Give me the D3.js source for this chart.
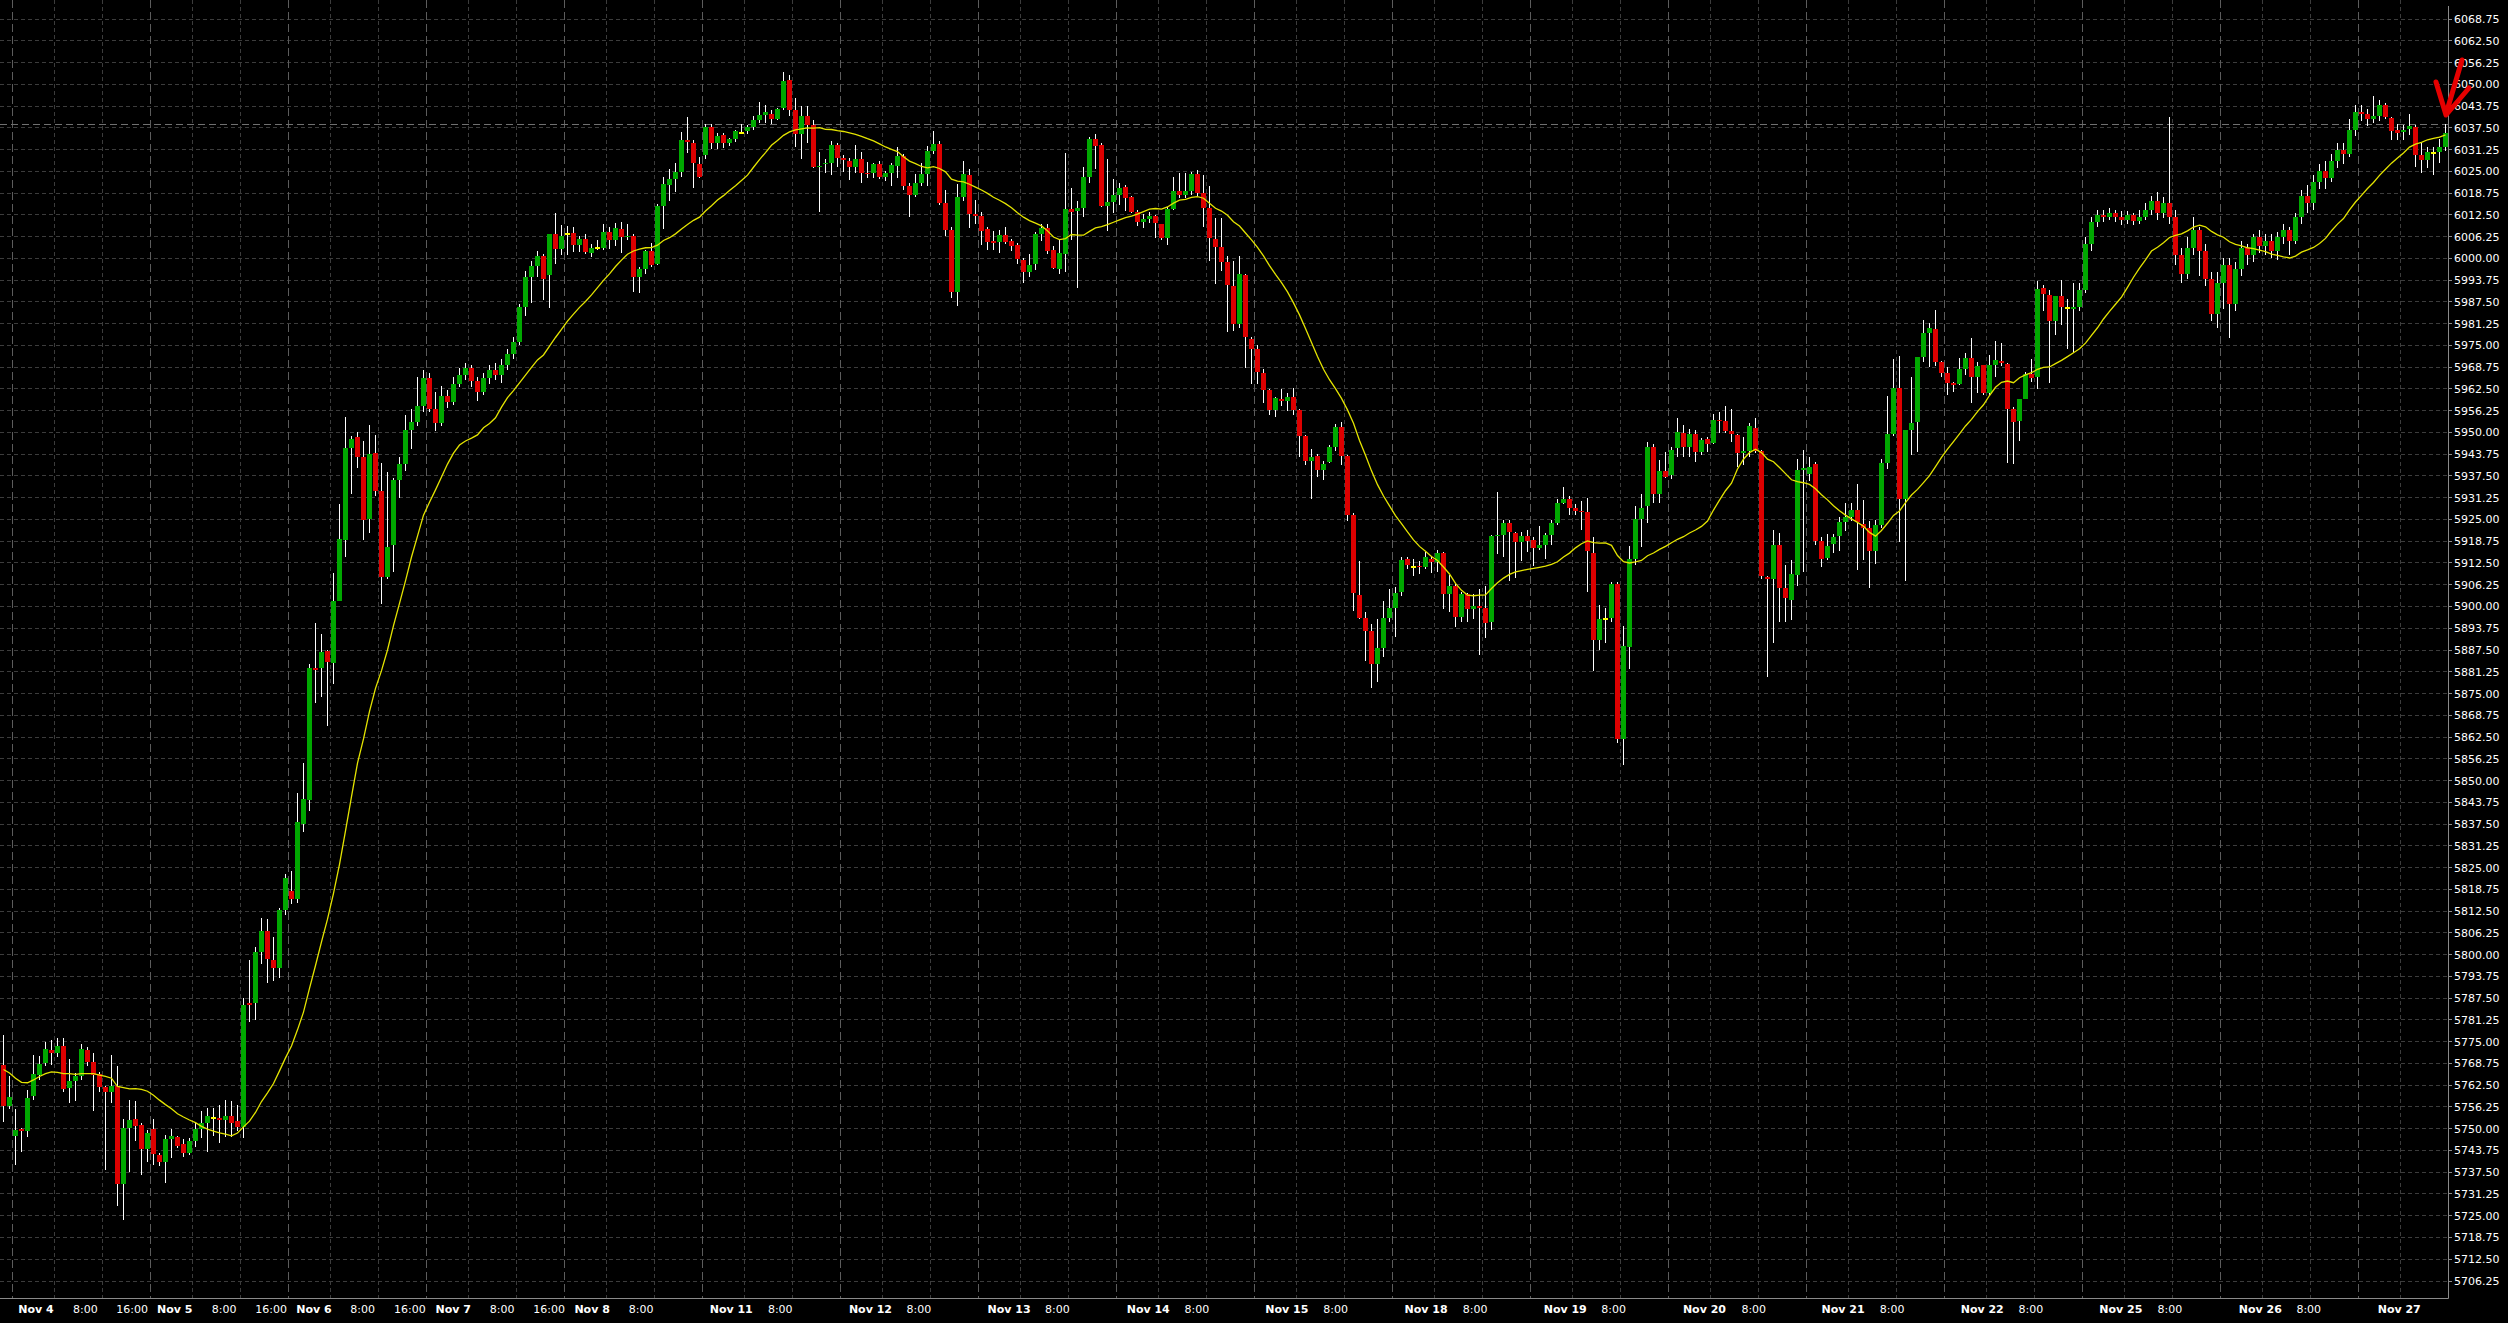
<!DOCTYPE html>
<html><head><meta charset="utf-8">
<script src="https://cdn.jsdelivr.net/npm/d3@7"></script>
<style>html,body{margin:0;padding:0;background:#000;overflow:hidden}</style>
</head><body>
<svg id="c" width="2508" height="1323"></svg>
<script>
const opens=[
5768.2,5756.5,5747.9,5749.9,5749.4,5759.4,5765.3,5768.9,5772.5,5771.8,
5773.7,5761.7,5763.6,5765.2,5772.5,5769.1,5765.8,5762,5760.6,5762.2,
5734.1,5750.1,5752.7,5751,5744.2,5749.8,5742.4,5740.4,5747,5747.5,
5745.6,5742.9,5746.4,5749.9,5751.5,5753.1,5753.1,5752.4,5753.7,5752.1,
5750.5,5786,5786,5800.7,5806.9,5798.5,5796.1,5812.9,5818.3,5815.9,
5837.5,5844.3,5882.2,5882.3,5887.2,5883.9,5901.5,5919.2,5945.5,5948.6,
5943,5925,5944.2,5933.1,5908.5,5917.8,5936.4,5940.9,5950.8,5953.1,
5957.5,5965.5,5956.8,5952.7,5960.4,5958.7,5964,5966.5,5968.4,5964.8,
5961.7,5965.6,5967.9,5966.5,5969.5,5972.5,5976,5985.9,5994.6,5997.8,
6000.7,5995.2,6007,6002.7,6007.1,6007.2,6003.8,6005.5,6001.6,6003.1,
6003.1,6007.6,6005.3,6008.4,6006.1,6006.5,5994.5,5996.9,6002.1,5998.4,
6015.1,6021.2,6022.8,6024.8,6034,6033,6027.1,6029.7,6037.7,6033,
6035.4,6033.2,6034.3,6036.1,6036.6,6037.6,6039.6,6041.2,6041.5,6040.1,
6043.3,6051.3,6042.6,6035.7,6040.9,6038.3,6026.3,6027,6027.5,6032.6,
6028.9,6028.1,6026.3,6028.5,6024.6,6024.6,6027.1,6023.4,6024.6,6026.6,
6029.4,6020.8,6018.2,6021.5,6024.2,6030.8,6032.8,6015.8,6008.1,5990.4,
6017.5,6023.9,6012.7,6012.1,6008.4,6005,6004.8,6006.7,6005,6003.8,
5999.5,5996.1,5998.3,6007,6008.8,6002.4,5996.9,6001.2,6014.1,6013.6,
6014.5,6023.4,6034.3,6032.5,6015.1,6016.1,6018.2,6020.4,6017.5,6013.4,
6010.5,6011.2,6012.1,6009.8,6005.9,6014.2,6019.3,6018.2,6019.3,6024.2,
6018.7,6014.6,6005.5,6003.2,5998.9,5992,5981,5995.1,5976.8,5974.1,
5967.2,5962.1,5956.4,5959.6,5958.9,5960.3,5956.4,5948.9,5941.9,5943.3,
5939.1,5941.4,5945.7,5951.5,5943.3,5926.3,5903.4,5896.7,5893,5883.6,
5888.2,5896.8,5899.7,5904.3,5913.5,5911.4,5911.7,5911.4,5913.5,5912.7,
5915.3,5903.6,5905.8,5897.1,5903.7,5899.2,5900.2,5899.7,5895.5,5920.2,
5920.6,5923.9,5921.2,5918.5,5920.2,5919.2,5916.8,5917.8,5920.6,5924.1,
5929.8,5930.9,5928.2,5927.4,5927.1,5915.4,5890.4,5896.3,5896.7,5906.6,
5862,5888.4,5913.5,5925.1,5928.8,5945.7,5932.4,5939,5937.7,5945.4,
5949.7,5945.9,5949.5,5944.4,5948,5947,5953.7,5953.2,5950.4,5949.2,
5944.1,5944.6,5951.4,5944.7,5908.5,5908,5917.6,5905.2,5901.8,5909,
5939.2,5938,5940.9,5918.8,5913.9,5917.9,5920.3,5924.3,5925.6,5927.7,
5923.8,5922.6,5916,5923.4,5941.3,5949.5,5962.8,5930.9,5950.7,5953.1,
5971.7,5978.6,5979.7,5970.3,5967.1,5964.3,5963.9,5968.2,5971.5,5966,
5969.3,5961.2,5969.5,5970.5,5969.6,5956.6,5953.3,5959.6,5966.9,5965.8,
5991.4,5989.4,5982.1,5989.3,5985.8,5985.5,5986.1,5990.9,6004,6010.5,
6012.5,6011.8,6013,6012,6011,6012.5,6010.8,6012,6014,6016.5,
6013,6016,6012,6001,5995.5,6003,6008,6002,5994,5984,
5993,5998,5987,5997,6003,6001,6006,6003.5,6005,6002,
6006,6008,6005,6012,6018,6016,6022,6025,6023,6028,
6031,6030,6037,6042,6041.5,6040,6041,6044,6040.4,6036.8,
6036.4,6037.1,6037.8,6029.7,6028.2,6030.3,6030.6,6032.1];

const highs=[
5777,5765.1,5755.6,5750.2,5761,5771.3,5771,5774.9,5775.5,5776,
5776,5769.9,5766.1,5774.2,5773.5,5771.8,5766.3,5762.4,5771.3,5767.9,
5752.8,5758.2,5757.9,5751.5,5749.5,5752.7,5743.1,5748.2,5749.8,5748,
5747,5747.4,5751.5,5755.1,5755.8,5756,5756.7,5758.2,5758,5756.7,
5787.6,5798.5,5802.3,5810.6,5810.2,5805.1,5813.3,5823.2,5824.1,5846.5,
5855.1,5883.5,5895.3,5892,5887.4,5909.6,5929.4,5954.4,5948.9,5950.1,
5947.5,5952.1,5949.4,5941.3,5938.6,5936.9,5942.8,5955.1,5956.7,5966,
5968,5967,5961.7,5963.4,5962.1,5966,5968.5,5970,5969.5,5966,
5967,5969.5,5970,5971,5974,5977.5,5987,5996.5,5999.2,6002.1,
6001.3,6007,6012.9,6009.6,6009.3,6008.9,6006.4,6007,6004,6005.3,
6009.9,6009.1,6010.1,6010.3,6009.9,6007,5997.5,6002.5,6004.3,6015.5,
6023.3,6025.7,6027.3,6036.4,6040.5,6034,6029.2,6038.6,6038.6,6036.1,
6036.1,6034.5,6036.8,6038.6,6038.3,6040.9,6044.8,6044.1,6042.6,6043.2,
6053.5,6052.7,6046,6043.8,6043.8,6039.6,6030.6,6028.5,6033.7,6033.2,
6029.7,6028.7,6032.5,6030.6,6027.8,6027.5,6028,6025.1,6027.3,6031.9,
6030,6021.5,6024.2,6027.3,6032.3,6036.6,6033.7,6019.6,6009,6021.3,
6028,6025.8,6016.9,6013.4,6009.1,6007.9,6008.1,6009.1,6005.7,6004.3,
6000,6001.2,6007.6,6010,6010,6003.6,6005.2,6030.4,6020.1,6016.5,
6026.3,6034.9,6035.7,6033,6028.5,6022.8,6021.7,6021,6018,6014,
6012.7,6013.4,6012.5,6010,6014.8,6023.3,6024.6,6024.6,6024.7,6025.4,
6023.9,6020.9,6011.5,6011.5,6000.7,5999.3,6000.7,5995.5,5977.3,5975,
5968.3,5962.5,5960.3,5962.4,5961.2,5962.7,5956.8,5949.4,5945.1,5943.8,
5941.7,5946.5,5952.5,5952.9,5943.6,5926.8,5913,5898.3,5895.1,5896.3,
5901.6,5905,5905.6,5914.1,5914.1,5913.5,5913,5915.7,5914.5,5916.2,
5915.7,5909,5906.4,5904.3,5904,5903.6,5905,5905.8,5920.5,5933,
5924.7,5924.7,5921.5,5921.5,5922,5919.9,5923.1,5921,5924.9,5930.9,
5934.3,5931.6,5929.3,5930.2,5931.3,5919.9,5900.3,5899.7,5907.1,5907.1,
5894.4,5917.3,5929,5932.3,5947.3,5946.6,5942.2,5944.4,5945.7,5954,
5952.1,5951.1,5950.7,5948.3,5948.7,5955.4,5955.9,5957.5,5956.7,5949.5,
5948.7,5952.6,5954,5945,5908.8,5922.1,5921.2,5911.9,5913.3,5942.5,
5944.9,5942.8,5941.5,5920,5920.8,5920.8,5925.8,5929.6,5929.6,5935.1,
5930.5,5924.6,5924.8,5942.5,5960.4,5971,5971.9,5950.7,5965.8,5971.7,
5982.4,5981.5,5985.1,5970.5,5968.7,5964.5,5971.5,5972.9,5977,5970.3,
5969.5,5972.2,5976.3,5975.6,5970,5957.4,5959.5,5967.4,5971.2,5993.5,
5992.2,5990.9,5989.3,5993.8,5988.2,5993,5993,6006,6012,6014,
6014,6014.5,6014,6013.5,6013.5,6013,6013.8,6016,6018,6019,
6017.5,6040.5,6014,6003,6006,6012,6009,6004,5996,5996,
6000,6000,5999,6005,6004,6007,6008,6007,6007,6007.5,
6010,6009,6013,6019.5,6021,6024,6027,6028,6030,6033,
6033,6040,6044,6044,6043,6046.5,6045.5,6044.5,6040.5,6038.6,
6038.3,6041.5,6038.3,6033,6032.1,6032.1,6034.2,6038.6];

const lows=[
5751.9,5755.6,5739.5,5743.3,5747.6,5758.2,5764,5768,5768.2,5770.5,
5760.5,5757.4,5757.9,5764.1,5768,5755.1,5760.4,5738,5757.4,5727.8,
5723.8,5737.6,5746.4,5736.6,5740.4,5739.5,5739.3,5734.4,5741.6,5744.5,
5741.9,5742.4,5744.7,5747.4,5743.4,5748,5745.9,5747.6,5747.6,5749.3,
5747.3,5780.7,5781.2,5797.2,5791.9,5792.4,5793.2,5811.3,5814.6,5814.9,
5835.3,5841.3,5872.3,5874,5865.7,5877.7,5901.5,5914.2,5932.3,5939.7,
5919.1,5921,5931.8,5900.6,5908,5910,5931.1,5939,5945.2,5951.8,
5956,5956,5950.5,5951.8,5957.1,5958,5963,5965,5963,5959,
5960.8,5964,5965,5964.3,5968,5971,5975,5983.4,5987.3,5994.6,
5988,5985.6,5998.4,6001,6001,6001.7,6001.7,6001.3,6000.5,6002.4,
6002.4,6002.7,6003.6,6001.6,6005.3,5990.4,5990.1,5995.5,5997.5,5998,
6008.4,6016.6,6019.2,6023.3,6030.4,6020.1,6023,6028.5,6031.3,6031.3,
6031.6,6032.3,6033.5,6035.7,6035.7,6037,6038.8,6038.8,6038.6,6039.8,
6042.6,6041,6031.9,6028.6,6033,6026,6013.4,6024.4,6023.8,6026.2,
6024.7,6022.5,6024.4,6021.7,6023.2,6023,6022.8,6022.3,6020.8,6023,
6019.6,6012,6017.5,6020.8,6020.8,6030,6015.3,6006.4,5988.5,5986.3,
6016.5,6008.8,6010,6003.8,6002.4,6002.4,6001.6,6004,6002.1,5998.3,
5993,5994.7,5996.6,6005,6001.2,5996.8,5995.4,5996.1,6005.2,5991.6,
6011.9,6021.7,6025.8,6014.8,6007.9,6012.9,6015.3,6013.7,6012.9,6009.3,
6008.8,6010.2,6005.9,6005.2,6003.8,6014,6017.2,6017.2,6018.2,6017.9,
6009.1,5999.1,5992.7,5996.5,5978.9,5979.1,5980,5968.6,5964,5964,
5958.5,5955,5954.5,5957.7,5956.1,5955,5942.8,5940.6,5930.9,5937.2,
5936.2,5941.2,5944.7,5940.6,5924.5,5898.7,5896.5,5884.3,5876.6,5878.2,
5885.4,5895.5,5891.2,5902.9,5910.7,5908.7,5909.3,5910.7,5909.5,5909.8,
5899.2,5898.3,5894.2,5895.5,5895.5,5896.5,5886.2,5891,5893.3,5915.1,
5914.1,5907.2,5908.2,5913,5915.7,5911.7,5916.2,5913.5,5917.8,5923.5,
5929.5,5926.3,5926.3,5922,5904.3,5881.6,5887.5,5889.4,5895.5,5860.9,
5854.5,5882.1,5911.9,5917,5924,5929.6,5929.6,5936.8,5936.5,5943,
5943,5943,5941.5,5943.5,5944.4,5946.6,5949.7,5949.7,5947.3,5940.1,
5940.6,5943,5944.1,5908,5879.8,5889.4,5895.6,5895.6,5896.1,5905.8,
5909.9,5936,5917.6,5911.4,5913.3,5915.5,5916,5921.7,5924.5,5910.4,
5913.3,5905.2,5912.3,5922.5,5939.6,5949,5918.6,5907.4,5943.5,5944.4,
5970.3,5968.9,5969,5966,5960.7,5961.7,5963.6,5966.5,5958.5,5961.2,
5960.7,5960.4,5966,5969,5941.1,5940.8,5947.6,5959.6,5964.5,5962.6,
5985,5964.1,5978,5980.8,5974.1,5972.7,5985,5990,6002,6009,
6010.5,6011,6010.5,6009.5,6010,6009.5,6010,6011,6012.5,6011,
6011.5,6010,5998,5993,5994,6001,5995,5992,5982,5980,
5985.5,5977,5985,5995,5998,5999,6001.5,6001,6000,5999.5,
6004,6001,6004,6010,6013,6014,6020,6020,6022,6026,
6027,6029,6035,6039.5,6038,6039,6039.5,6040,6034,6034,
6034,6035.4,6026.3,6024.4,6025.9,6023.9,6027.5,6030.9];

const closes=[
5756.5,5759.1,5749.5,5749.4,5758.9,5765.6,5768.7,5772.8,5771.7,5773.8,
5761.3,5763.6,5765.2,5772.8,5769.2,5765.3,5762,5760.6,5762.2,5734.1,
5750.1,5752.5,5750.8,5744.2,5748.7,5742.7,5740.4,5747,5747.8,5745.1,
5742.9,5746.4,5749.9,5751.5,5753.6,5753.1,5752.4,5753.7,5751.6,5750.5,
5785.6,5785.5,5800.7,5806.9,5798.8,5796.1,5812.9,5821.9,5815.9,5838,
5844.7,5882.3,5881.8,5886.9,5884.1,5901.5,5919.5,5945.5,5948.1,5943,
5924.8,5943.9,5933.3,5908.5,5917.2,5936.4,5940.9,5950.8,5953.1,5957.5,
5965.5,5956.8,5952.7,5960.4,5958.7,5964,5966.5,5968.4,5964.8,5961.7,
5965.6,5967.9,5966.5,5969.5,5972.5,5976,5985.9,5994.6,5997.8,6000.7,
5994.1,6007,6002.7,6006.4,6007.1,6003.8,6005.5,6001.9,6002.9,6003.1,
6007.6,6005.3,6008.7,6006.2,6006.5,5994.5,5996.9,6002.1,5998.1,6015.1,
6021.4,6022.8,6024.8,6034,6033.5,6027.5,6023.5,6037.7,6033.2,6035.2,
6033.2,6034.3,6036.6,6036.1,6037.6,6039.7,6041.2,6041.9,6040.1,6042.9,
6051,6042.6,6035.7,6040.9,6038.3,6026.3,6026.5,6027.5,6032.6,6028.7,
6028.3,6026.2,6028.5,6024.6,6024.1,6027.1,6023.4,6024.6,6026.8,6029.4,
6020.9,6018.2,6021.5,6024.2,6030.8,6032.8,6016,6008.1,5990.4,6017.5,
6024.2,6012.7,6012.1,6007.8,6004.8,6004.5,6006.7,6004.8,6003.6,5999.8,
5996.1,5998,6007,6008.8,6002.2,5997.3,6001.4,6014.2,6013.4,6014.5,
6023.4,6034.3,6032.4,6015.1,6016.1,6018.2,6020.1,6017.4,6013.4,6010.5,
6011.2,6012.1,6010.2,6005.9,6014.2,6019.3,6018.2,6019.3,6024.2,6018.7,
6014.6,6005.8,6003.2,5998.9,5992.4,5981,5995.4,5977.3,5973.9,5967.4,
5962.1,5956.4,5959.8,5958.9,5960.3,5956.4,5949.1,5941.7,5942.8,5939.1,
5941,5945.7,5951.5,5943.3,5926.3,5904,5896.7,5893,5883.6,5888.2,
5896.8,5899.7,5903.9,5913.3,5911.9,5911.4,5911.3,5914.1,5912.8,5915.3,
5903.7,5905.8,5897.1,5903.7,5899.4,5900,5899.7,5895.2,5920.2,5920.6,
5923.9,5921.3,5918.5,5920.2,5918.9,5916.7,5917.8,5920.4,5924.1,5929.8,
5930.9,5928.2,5927.4,5927,5916,5890.4,5896.5,5896.3,5906.6,5862,
5888.6,5913.5,5925.1,5928.4,5945.7,5932.4,5939,5937.1,5944.9,5950,
5945.9,5949.5,5944.4,5947.8,5946.6,5953.7,5953.2,5950.5,5949.5,5944.1,
5944.6,5951.8,5944.7,5908.8,5908,5917.6,5905.3,5902.5,5909.3,5939.2,
5939.8,5940.1,5918.8,5913.6,5917.4,5919.9,5924.3,5925.6,5927.7,5924.3,
5922.6,5916,5923.4,5941.1,5949.5,5962.8,5930.9,5950.7,5952.6,5971.7,
5978.6,5980.1,5970.3,5967.1,5964.3,5963.6,5968.2,5971.5,5965.8,5969,
5961.4,5969.5,5970.8,5969.8,5956.6,5953,5959.5,5966.8,5965.5,5991.2,
5989.9,5982.1,5989.3,5986.1,5985.8,5986.1,5990.9,6004,6010.5,6012.5,
6011.8,6013,6012,6011,6012.5,6010.8,6012,6014,6016.5,6013,
6016,6012,6001,5995.5,6003,6008,6002,5994,5984,5993,
5998,5987,5997,6003,6001,6006,6003.5,6005,6002,6006,
6008,6005,6012,6018,6016,6022,6025,6023,6028,6031,
6030,6037,6042,6041.5,6040,6041,6044,6040.7,6036.7,6036.1,
6036.8,6038,6029.7,6028.2,6030.6,6030.3,6032.1,6035.9];

// moving average values for the first bars (before a full 20-bar window exists)
const maLead=[5767,5766,5764.5,5763.3,5763.2,5764,5765,5765.8,5766.3,5766.2,5765.8,5765.8,5765.6,5765.8,5765.8,5765.8,5765.4,5765,5764.5];
const maPeriod=20;
const priceLine=6038.5;

const tickText=["Nov 4","8:00","16:00","Nov 5","8:00","16:00","Nov 6","8:00","16:00","Nov 7","8:00","16:00","Nov 8","8:00",
"Nov 11","8:00","Nov 12","8:00","Nov 13","8:00","Nov 14","8:00","Nov 15","8:00","Nov 18","8:00","Nov 19","8:00",
"Nov 20","8:00","Nov 21","8:00","Nov 22","8:00","Nov 25","8:00","Nov 26","8:00","Nov 27"];
const tickPos=[2.45,11.6,18.8,25.6,34.7,41.95,48.8,57.8,65.1,72.0,81.05,88.3,95.15,104.2,
117.7,127.4,140.9,150.5,164,173.6,187.2,196.85,210.3,219.97,233.5,243.2,256.7,266.3,
279.9,289.65,303,312.7,326.2,335.85,349.3,359,372.55,382.15,395.7];
const priceTickMin=5706.25, priceTickMax=6068.75, priceTickStep=6.25;
const daySeparatorFirst=1.5, barsPerDay=23, daysShown=18;

const W=2508,H=1323,plotR=2448,plotB=1298;
const svg=d3.select('#c');
svg.append('rect').attr('width',W).attr('height',H).attr('fill','#000');

const n=closes.length;
const x=d3.scaleLinear().domain([0,n-1]).range([3.5,3.5+6*(n-1)]);
const y=d3.scaleLinear().domain([priceTickMin,priceTickMax]).range([1281,19]);

const priceTicks=d3.range(priceTickMin,priceTickMax+0.001,priceTickStep);
const g=svg.append('g');
g.selectAll('line.hg').data(priceTicks).join('line').attr('class','hg')
 .attr('x1',0).attr('x2',plotR).attr('y1',d=>Math.floor(y(d))+0.5).attr('y2',d=>Math.floor(y(d))+0.5)
 .attr('stroke','#3c3c3c').attr('stroke-dasharray','4,3');
const sepPos=d3.range(daysShown).map(k=>daySeparatorFirst+barsPerDay*k);
const gridPos=[];sepPos.forEach(s=>{gridPos.push(s+7);gridPos.push(s+15);});
g.selectAll('line.vg').data(gridPos.filter(p=>x(p)<plotR)).join('line').attr('class','vg')
 .attr('x1',d=>x(d)).attr('x2',d=>x(d)).attr('y1',0).attr('y2',plotB)
 .attr('stroke','#3c3c3c').attr('stroke-dasharray','4,3');
g.selectAll('line.sep').data(sepPos.filter(p=>x(p)<plotR)).join('line').attr('class','sep')
 .attr('x1',d=>x(d)).attr('x2',d=>x(d)).attr('y1',0).attr('y2',plotB)
 .attr('stroke','#5c5c5c').attr('stroke-dasharray','8,4');

svg.append('line').attr('x1',0).attr('x2',plotR)
 .attr('y1',Math.floor(y(priceLine))+0.5).attr('y2',Math.floor(y(priceLine))+0.5)
 .attr('stroke','#707070').attr('stroke-dasharray','7,4');

const bars=d3.range(n).map(i=>({i,o:opens[i],h:highs[i],l:lows[i],c:closes[i]}));
const cg=svg.append('g');
cg.selectAll('rect.wick').data(bars).join('rect').attr('class','wick')
 .attr('x',d=>x(d.i)-0.5).attr('width',1)
 .attr('y',d=>Math.round(y(d.h))).attr('height',d=>Math.max(1,Math.round(y(d.l))-Math.round(y(d.h))))
 .attr('fill','#ffffff');
cg.selectAll('rect.body').data(bars).join('rect').attr('class','body')
 .attr('x',d=>x(d.i)-2.5).attr('width',5)
 .attr('y',d=>d.o===d.c?Math.round(y(d.c))-1:Math.round(y(Math.max(d.o,d.c))))
 .attr('height',d=>d.o===d.c?2:Math.max(1,Math.round(y(Math.min(d.o,d.c)))-Math.round(y(Math.max(d.o,d.c)))))
 .attr('fill',d=>d.o===d.c?'#ffff00':(d.c>d.o?'#00a800':'#dd0000'));

const ma=closes.map((c,i)=>i<maPeriod-1?maLead[i]:d3.mean(closes.slice(i-maPeriod+1,i+1)));
svg.append('path').datum(ma).attr('fill','none').attr('stroke','#e4e400').attr('stroke-width',1.3)
 .attr('d',d3.line().x((d,i)=>x(i)).y(d=>y(d)));

svg.append('line').attr('x1',plotR+0.5).attr('x2',plotR+0.5).attr('y1',6).attr('y2',plotB+0.5).attr('stroke','#8a8a8a');
svg.append('line').attr('x1',0).attr('x2',plotR+0.5).attr('y1',plotB+0.5).attr('y2',plotB+0.5).attr('stroke','#8a8a8a');

const yl=svg.append('g');
yl.selectAll('line').data(priceTicks).join('line')
 .attr('x1',plotR+1).attr('x2',plotR+4).attr('y1',d=>Math.floor(y(d))+0.5).attr('y2',d=>Math.floor(y(d))+0.5).attr('stroke','#8a8a8a');
yl.selectAll('text').data(priceTicks).join('text')
 .attr('x',2454).attr('y',d=>y(d)+4).text(d=>d.toFixed(2))
 .attr('fill','#ffffff').attr('font-family','DejaVu Sans, sans-serif').attr('font-size',11);

svg.append('g').selectAll('text').data(tickText).join('text')
 .attr('x',(d,i)=>x(tickPos[i])).attr('y',1313).text(d=>d)
 .attr('fill','#ffffff').attr('font-family','DejaVu Sans, sans-serif').attr('font-size',11)
 .attr('font-weight',d=>d.startsWith('Nov')?'bold':'normal');

svg.append('path').attr('d','M2462,60 L2446,114 M2436,82 L2446,115 L2469,88')
 .attr('fill','none').attr('stroke','#e60000').attr('stroke-width',5).attr('stroke-linecap','round').attr('stroke-linejoin','round');
</script>
</body></html>
